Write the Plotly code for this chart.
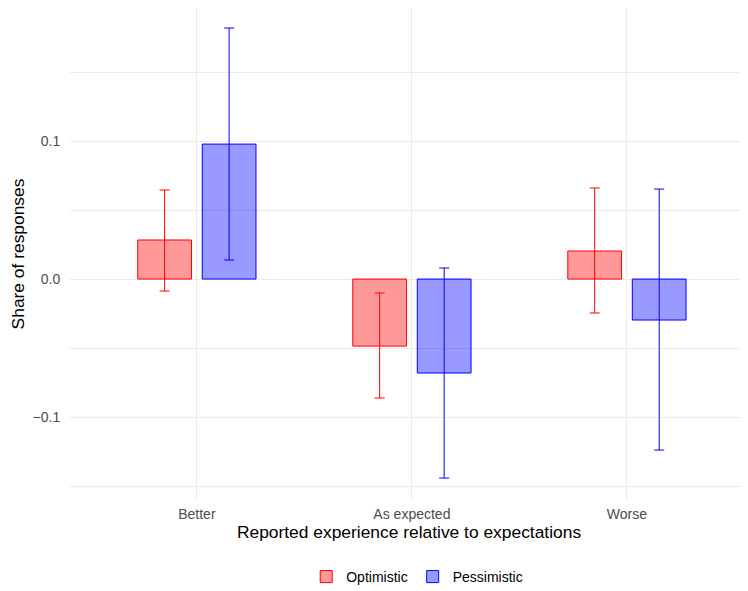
import plotly.graph_objects as go

categories = ["Better", "As expected", "Worse"]
groups = ["Optimistic", "Pessimistic"]

optimistic = [0.0283, -0.0486, 0.0203]
optimistic_hi = [0.0645, -0.0101, 0.0660]
optimistic_lo = [-0.0087, -0.0862, -0.0246]

pessimistic = [0.0978, -0.0681, -0.0297]
pessimistic_hi = [0.1819, 0.0080, 0.0652]
pessimistic_lo = [0.0138, -0.1442, -0.1239]

x_pos = [1, 2, 3]

fig = go.Figure()

series = [
    (groups[0], optimistic, optimistic_hi, optimistic_lo, "red", "rgba(255,0,0,0.4)", -0.275),
    (groups[1], pessimistic, pessimistic_hi, pessimistic_lo, "blue", "rgba(0,0,255,0.4)", 0.025),
]

for name, vals, hi, lo, line_col, fill_col, off in series:
    fig.add_trace(go.Bar(
        name=name,
        x=x_pos,
        y=vals,
        width=0.25,
        offset=off,
        marker=dict(color=fill_col, line=dict(color=line_col, width=1)),
        error_y=dict(
            type="data",
            symmetric=False,
            array=[h - v for h, v in zip(hi, vals)],
            arrayminus=[v - l for l, v in zip(lo, vals)],
            color=line_col,
            thickness=1,
            width=5,
        ),
    ))

# page body has an 8px margin, so the figure is a bit smaller than the window
fig.update_layout(
    width=740,
    height=583,
    barmode="overlay",
    plot_bgcolor="white",
    paper_bgcolor="white",
    font=dict(family="Liberation Sans, Arial, sans-serif", color="black"),
    margin=dict(l=62, r=0, t=0, b=91, autoexpand=False),
    showlegend=True,
    legend=dict(
        orientation="h",
        xref="container", yref="container",
        x=0.553, xanchor="center",
        y=0.024, yanchor="middle",
        font=dict(size=14, color="black"),
        traceorder="normal",
    ),
)

fig.update_xaxes(
    automargin=False,
    range=[0.41, 3.563],
    tickvals=x_pos,
    ticktext=categories,
    showgrid=True,
    gridcolor="#ebebeb",
    gridwidth=1.4,
    zeroline=False,
    showline=False,
    ticks="outside",
    ticklen=1,
    tickcolor="rgba(0,0,0,0)",
    tickfont=dict(size=14, color="#4d4d4d"),
    title=dict(text="Reported experience relative to expectations",
               font=dict(size=17.4, color="black"), standoff=5),
)

fig.update_yaxes(
    automargin=False,
    range=[-0.1601, 0.1964],
    tickvals=[-0.1, 0.0, 0.1],
    tickformat=".1f",
    showgrid=True,
    gridcolor="#ebebeb",
    gridwidth=1.4,
    zeroline=False,
    showline=False,
    ticks="outside",
    ticklen=6,
    tickcolor="rgba(0,0,0,0)",
    tickfont=dict(size=14, color="#4d4d4d"),
    minor=dict(tickvals=[-0.15, -0.05, 0.05, 0.15], showgrid=True,
               gridcolor="#ebebeb", gridwidth=0.7),
    title=dict(text="Share of responses", font=dict(size=17.4, color="black"), standoff=9),
)

fig.write_html("out.html")
